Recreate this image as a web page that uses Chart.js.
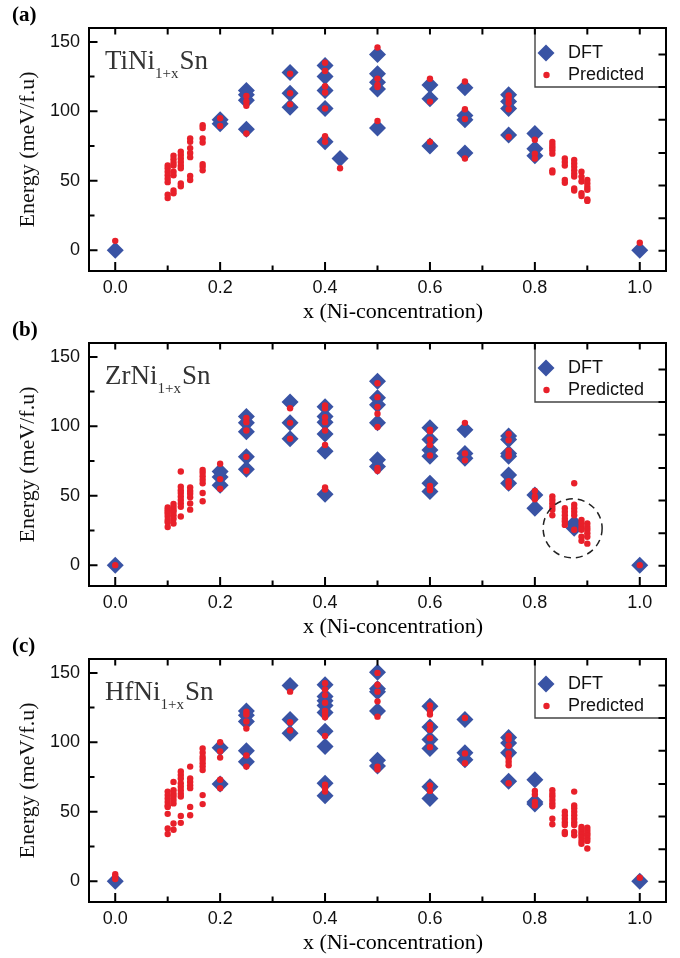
<!DOCTYPE html>
<html>
<head>
<meta charset="utf-8">
<script src="https://cdn.jsdelivr.net/npm/chart.js@4.4.0/dist/chart.umd.min.js"></script>
<style>
  html, body { margin: 0; padding: 0; background: #fff; }
  #wrap { position: relative; width: 680px; height: 958px; overflow: hidden; }
  canvas { position: absolute; left: 0; }
</style>
</head>
<body>
<div id="wrap">
  <canvas id="panelA" width="680" height="330" style="top:0px"></canvas>
  <canvas id="panelB" width="680" height="330" style="top:315px"></canvas>
  <canvas id="panelC" width="680" height="327" style="top:631px"></canvas>
</div>
<script>
// Ni concentrations (x) shared by all three panels
const conc = [0, 1/10, 1/9, 1/8, 1/7, 1/6, 1/5, 1/4, 1/3, 2/5, 3/7, 1/2, 3/5, 2/3, 3/4, 4/5, 5/6, 6/7, 7/8, 8/9, 9/10, 1]

const xTicks = [0, 0.1, 0.2, 0.3, 0.4, 0.5, 0.6, 0.7, 0.8, 0.9, 1.0]
const xMajor = [0, 0.2, 0.4, 0.6, 0.8, 1.0]
const yTicks = [0, 25, 50, 75, 100, 125, 150]
const yMajor = [0, 50, 100, 150]
// the mirrored right axis in the original is slightly off-scale
const rightTicks = [-0.5, 23, 46.5, 70, 94, 117.5, 141]

// energies (meV/f.u) per concentration, same order as conc
const tiDft = [[0], [], [], [], [], [], [94, 91], [115, 112, 108, 87], [128, 113, 103], [133, 125, 115, 102, 78], [66],
  [141, 127, 121, 116, 88], [119, 109, 75], [117, 97, 94, 70], [112, 107, 102, 83], [84, 73, 68], [], [], [], [], [], [0]]
const tiPred = [[6.7], [61, 59, 56.5, 54, 51.5, 49, 40, 37.5], [68, 65.5, 63, 61, 56.5, 54, 43, 41], [71, 68.5, 66, 63.5, 61, 59, 48, 46],
  [80.5, 78, 73.5, 70, 67, 53.5, 50.5], [90, 88, 80.5, 77.5, 62, 60, 57.5], [95, 89.5], [111, 107, 104, 84], [127, 113, 105],
  [135, 129, 118, 113.5, 102, 82, 78], [59], [146, 123.5, 119, 117.5, 93], [123.5, 107, 78], [121.5, 101.5, 94.5, 66],
  [111.5, 109, 106, 101.5, 81.5], [79.5, 69.5, 66], [78, 76, 74, 72, 69.5, 57.5, 56], [66, 63.5, 61, 50.5, 48.5],
  [65, 62.5, 60, 57.5, 55, 53, 44.5, 43], [56.5, 53, 49.5, 41, 39], [50.5, 48, 45.5, 43.5, 36.5, 35.5], [5.3]]

const zrDft = [[0], [], [], [], [], [], [67.5, 63.5, 57.5], [107, 102.5, 96, 78, 69], [117.5, 102.5, 91], [114, 107, 103, 94.5, 82, 51], [],
  [132.5, 120.5, 115.5, 102.5, 76, 71], [99, 90.5, 83, 78.5, 59, 53], [97.5, 80.5, 77], [93, 90.5, 80.5, 78.5, 65, 59], [50.5, 41],
  [], [], [30, 26.5], [], [], [0]]
const zrPred = [[0], [41.5, 40, 38.5, 37, 35, 32.5, 31, 27.5], [44, 42, 40, 38.5, 36, 33.5, 30], [67.5, 56.5, 54, 52, 49.5, 47, 44.5, 42, 35],
  [56, 53.5, 51.5, 49, 44.5, 40], [68.5, 66.5, 64, 61.5, 59, 52, 46], [73, 62, 55], [106, 103, 97, 78, 68], [113, 102.5, 91],
  [115, 113, 106.5, 103, 97, 86.5, 56, 54.5], [], [131, 121, 114, 109, 99.5, 70, 68], [97.5, 96.5, 90.5, 86.5, 79, 57, 55.5, 54],
  [102.5, 80.5, 75.5], [94.5, 90, 82.5, 80, 78.5, 60.5, 59, 56.5], [53.5, 49.5, 47.5], [49.5, 47, 44.5, 42, 40, 36],
  [41, 38.5, 36, 33.5, 31.5, 29], [59, 43.5, 41, 38.5, 36, 25.5], [32.5, 30, 27.5, 25.5, 20.5, 17.5], [30, 27.5, 25.5, 23, 20.5, 15.5], [0]]

const hfDft = [[0], [], [], [], [], [], [96, 70], [122.5, 119.5, 115, 94, 86], [141, 116.5, 106.5],
  [141.5, 133, 130, 126.5, 121.5, 108, 97, 70.5, 61.5], [], [150.5, 138.5, 136.5, 122.5, 87, 83], [126, 111, 102, 95.5, 68, 59.5],
  [116.5, 92.5, 87.5], [103.5, 99.5, 92.5, 72], [73, 57, 55.5], [], [], [], [], [], [0]]
const hfPred = [[5, 3, 1.5], [64.5, 62, 59.5, 57, 54.5, 53.5, 48.5, 38, 34], [71.5, 65.5, 63, 61, 58.5, 56, 41.5, 37],
  [79, 76.5, 74, 70.5, 68, 65.5, 63, 61, 47, 42], [82.5, 74, 71.5, 69, 67, 53.5, 47.5], [95.5, 92.5, 89.5, 87.5, 85, 82.5, 80, 62, 55.5],
  [100, 93.5, 89, 73, 67], [122, 120, 115, 110, 90.5, 82.5], [136.5, 114.5, 108.5],
  [142.5, 138, 134, 128.5, 122.5, 120.5, 118, 104.5, 69.5, 67, 64.5], [], [150, 141.5, 136.5, 129.5, 118.5, 82.5, 80.5],
  [126.5, 122.5, 120, 112.5, 109, 103, 96.5, 69, 65], [117.5, 92, 85], [104.5, 102, 97.5, 92, 88.5, 86, 83.5, 70.5],
  [65, 62.5, 57, 54.5], [65.5, 63, 61, 58.5, 56, 54, 45, 41], [50, 47.5, 45, 42.5, 40.5, 35.5, 34],
  [64.5, 54.5, 52.5, 50, 47.5, 45, 42.5, 40.5, 35.5, 33], [39, 37, 35, 33.5, 31.5, 29, 27], [38.5, 36.5, 34.5, 33, 31, 29, 23.5], [2.5]]

const blue = "#3953a4"
const red = "#e8202a"
const sans = "'Liberation Sans', Arial, sans-serif"
const serif = "'Liberation Serif', 'Times New Roman', serif"

function toPoints(groups) {
  return conc.flatMap((x, i) => groups[i].map((y) => ({ x, y })))
}

function isMajor(list, v) {
  return list.some((m) => Math.abs(m - v) < 1e-9)
}

function diamond(ctx, cx, cy, r) {
  ctx.beginPath()
  ctx.moveTo(cx, cy - r)
  ctx.lineTo(cx + r, cy)
  ctx.lineTo(cx, cy + r)
  ctx.lineTo(cx - r, cy)
  ctx.closePath()
  ctx.fill()
}

// legend, frame with inward ticks, labels
const panelDecor = {
  id: "panelDecor",
  afterDraw(chart, args, opts) {
    const { ctx, chartArea: a, scales } = chart
    const x = scales.x
    const y = scales.y
    ctx.save()

    // legend box (frame ticks are drawn over it)
    const lx = a.right - 131
    const lb = a.top + 59
    ctx.fillStyle = "#fff"
    ctx.fillRect(lx, a.top, a.right - lx, lb - a.top)
    ctx.strokeStyle = "#444"
    ctx.lineWidth = 1.4
    ctx.beginPath()
    ctx.moveTo(lx, a.top)
    ctx.lineTo(lx, lb)
    ctx.lineTo(a.right, lb)
    ctx.stroke()
    ctx.fillStyle = blue
    diamond(ctx, a.right - 120, a.top + 25, 8.5)
    ctx.fillStyle = red
    ctx.beginPath()
    ctx.arc(a.right - 119.5, a.top + 47, 3.2, 0, Math.PI * 2)
    ctx.fill()
    ctx.fillStyle = "#111"
    ctx.font = "18px " + sans
    ctx.textBaseline = "middle"
    ctx.textAlign = "left"
    ctx.fillText("DFT", a.right - 98, a.top + 25)
    ctx.fillText("Predicted", a.right - 98, a.top + 47)

    // frame and inward ticks
    ctx.strokeStyle = "#000"
    ctx.lineWidth = 2
    ctx.beginPath()
    ctx.rect(a.left, a.top, a.right - a.left, a.bottom - a.top)
    xTicks.forEach((v) => {
      const px = x.getPixelForValue(v)
      const len = isMajor(xMajor, v) ? 9 : 5.5
      ctx.moveTo(px, a.bottom)
      ctx.lineTo(px, a.bottom - len)
      ctx.moveTo(px, a.top)
      ctx.lineTo(px, a.top + 6.5)
    })
    yTicks.forEach((v) => {
      const py = y.getPixelForValue(v)
      const len = isMajor(yMajor, v) ? 8.5 : 5.5
      ctx.moveTo(a.left, py)
      ctx.lineTo(a.left + len, py)
    })
    rightTicks.forEach((v) => {
      const py = y.getPixelForValue(v)
      ctx.moveTo(a.right, py)
      ctx.lineTo(a.right - 7.5, py)
    })
    ctx.stroke()

    // dashed circle (panel b)
    if (opts.circle) {
      ctx.setLineDash([7, 5])
      ctx.lineWidth = 1.5
      ctx.strokeStyle = "#222"
      ctx.beginPath()
      ctx.arc(x.getPixelForValue(opts.circle[0]), y.getPixelForValue(opts.circle[1]), 29.5, 0, Math.PI * 2)
      ctx.stroke()
      ctx.setLineDash([])
    }

    // compound name with subscript
    ctx.fillStyle = "#333"
    ctx.textAlign = "left"
    ctx.textBaseline = "alphabetic"
    ctx.font = "27px " + serif
    let tx = 105
    const base = a.top + 41
    const head = opts.metal + "Ni"
    ctx.fillText(head, tx, base)
    tx += ctx.measureText(head).width
    ctx.font = "15px " + serif
    ctx.fillText("1+x", tx, base + 9)
    tx += ctx.measureText("1+x").width + 1
    ctx.font = "27px " + serif
    ctx.fillText("Sn", tx, base)

    // panel letter
    ctx.fillStyle = "#000"
    ctx.font = "bold 21px " + serif
    ctx.fillText(opts.label, 12, 21)

    // x axis title
    ctx.font = "22px " + serif
    ctx.textAlign = "center"
    ctx.textBaseline = "middle"
    ctx.fillText("x (Ni-concentration)", 393, a.bottom + 41)

    ctx.restore()
  },
}

function makePanel(id, dft, pred, label, metal, circle) {
  const canvas = document.getElementById(id)
  const h = canvas.height
  return new Chart(canvas, {
    type: "scatter",
    data: {
      datasets: [
        {
          label: "DFT",
          data: toPoints(dft),
          pointStyle: "rectRot",
          pointRadius: 8.5,
          backgroundColor: blue,
          borderColor: blue,
          borderWidth: 0,
          order: 2,
        },
        {
          label: "Predicted",
          data: toPoints(pred),
          pointStyle: "circle",
          pointRadius: 3.2,
          backgroundColor: red,
          borderColor: red,
          borderWidth: 0,
          order: 1,
        },
      ],
    },
    options: {
      responsive: false,
      animation: false,
      layout: { padding: { top: 28, right: 14, left: 0, bottom: 0 } },
      plugins: {
        legend: { display: false },
        tooltip: { enabled: false },
        panelDecor: { label, metal, circle },
      },
      scales: {
        x: {
          type: "linear",
          min: -0.05,
          max: 1.05,
          afterBuildTicks: (s) => {
            s.ticks = xTicks.map((v) => ({ value: v }))
          },
          afterFit: (s) => {
            s.height = h - 271
          },
          ticks: {
            autoSkip: false,
            maxRotation: 0,
            padding: 6,
            color: "#111",
            font: { family: sans, size: 18 },
            callback: (v) => (isMajor(xMajor, v) ? Number(v).toFixed(1) : ""),
          },
          grid: { display: false, drawTicks: false },
          border: { display: false },
        },
        y: {
          type: "linear",
          min: -15,
          max: 160,
          afterBuildTicks: (s) => {
            s.ticks = yTicks.map((v) => ({ value: v }))
          },
          afterFit: (s) => {
            s.width = 89
          },
          ticks: {
            autoSkip: false,
            padding: 9,
            color: "#111",
            font: { family: sans, size: 18 },
            callback: (v) => (isMajor(yMajor, v) ? String(v) : ""),
          },
          grid: { display: false, drawTicks: false },
          border: { display: false },
          title: {
            display: true,
            text: "Energy (meV/f.u)",
            color: "#111",
            font: { family: serif, size: 22 },
            padding: { top: 15, bottom: 0 },
          },
        },
      },
    },
    plugins: [panelDecor],
  })
}

makePanel("panelA", tiDft, tiPred, "(a)", "Ti", null)
makePanel("panelB", zrDft, zrPred, "(b)", "Zr", [0.872, 26.5])
makePanel("panelC", hfDft, hfPred, "(c)", "Hf", null)
</script>
</body>
</html>
